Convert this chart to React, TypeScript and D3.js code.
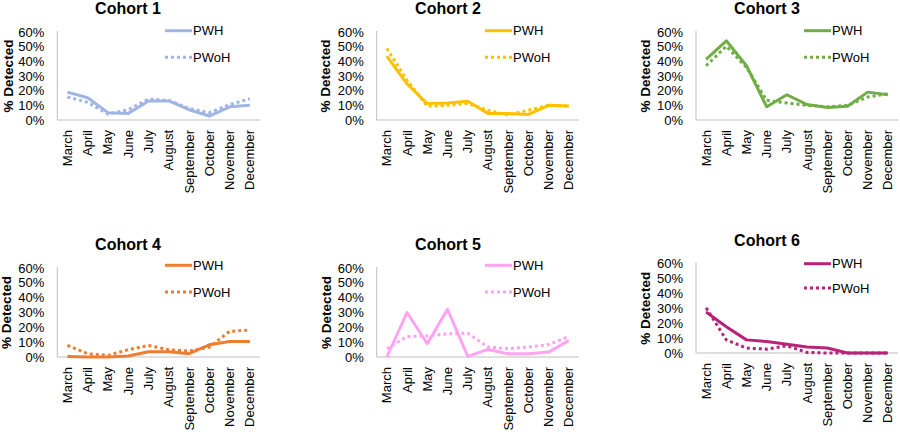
import React from "react";
import * as d3 from "d3";

const months = ["March", "April", "May", "June", "July", "August", "September", "October", "November", "December"];
const cohortNames = ["Cohort 1", "Cohort 2", "Cohort 3", "Cohort 4", "Cohort 5", "Cohort 6"];
const yTicks = [0, 10, 20, 30, 40, 50, 60];
const seriesNames = ["PWH", "PWoH"];

const pwh1 = [19, 15.2, 5, 4.5, 13, 13, 7, 2.7, 9, 10];
const pwoh1 = [15.7, 12, 4, 7, 14.3, 13.4, 7.8, 5, 10.5, 14.5];
const pwh2 = [43.6, 24.6, 11.2, 11.6, 12.8, 4.5, 4.5, 3.8, 10, 9.6];
const pwoh2 = [48.8, 27, 9.4, 10, 11.2, 6.7, 3.4, 6.7, 10, 9.4];
const pwh3 = [41.4, 54, 37, 9, 17.2, 10.5, 8.5, 9.4, 19, 17.2];
const pwoh3 = [37, 50.3, 35.8, 13.4, 11.6, 10, 9, 10, 15.7, 17.9];
const pwh4 = [0.4, 0, 0, 0.7, 3.6, 3.6, 2.2, 8.2, 10.4, 10.4];
const pwoh4 = [7.8, 2.2, 1.1, 4.9, 7.8, 4.9, 4, 6.7, 17.3, 18.2];
const pwh5 = [0, 30, 8.9, 32.2, 0.4, 5.1, 2.2, 2.2, 3.3, 11.1];
const pwoh5 = [5.6, 13.8, 14.2, 15.6, 16, 6.7, 5.6, 6.7, 8.4, 13.8];
const pwh6 = [27.5, 17.6, 8.8, 7.7, 5.9, 4, 3.3, 0, 0, 0];
const pwoh6 = [30.3, 8.8, 3.3, 2.6, 4.8, 0.4, 0, 0, 0, 0];

const pwhAll = [pwh1, pwh2, pwh3, pwh4, pwh5, pwh6];
const pwohAll = [pwoh1, pwoh2, pwoh3, pwoh4, pwoh5, pwoh6];
const colors = ["#9fb5e3", "#ffc000", "#70ad47", "#ed7d31", "#ffa3f2", "#b8237a"];

// layout (positions only)
const layouts = [
  { x0: 57.3, x1: 260, yTop: 32, yBot: 120, titleX: 128, titleY: 8, ylabX: 8.5, legX: 165, legY1: 30.7, legY2: 57.3 },
  { x0: 376.7, x1: 579, yTop: 32, yBot: 120, titleX: 448, titleY: 8, ylabX: 325.7, legX: 485, legY1: 30.7, legY2: 57.3 },
  { x0: 696, x1: 898, yTop: 32, yBot: 120, titleX: 767, titleY: 8, ylabX: 645, legX: 804, legY1: 30.7, legY2: 57.3 },
  { x0: 57.3, x1: 260, yTop: 268, yBot: 357, titleX: 128, titleY: 244, ylabX: 6.7, legX: 165, legY1: 265.3, legY2: 292 },
  { x0: 376.7, x1: 579, yTop: 268, yBot: 357, titleX: 448, titleY: 244, ylabX: 326.7, legX: 485, legY1: 265.3, legY2: 292 },
  { x0: 696, x1: 898, yTop: 263.5, yBot: 353, titleX: 767, titleY: 240, ylabX: 645, legX: 804, legY1: 263.7, legY2: 288 },
];

const FONT = "'Liberation Sans', Arial, sans-serif";
const AXIS_COLOR = "#bfbfbf";

function Panel({ idx }: { idx: number }) {
  const L = layouts[idx];
  const color = colors[idx];
  const x = d3.scaleBand<string>().domain(months).range([L.x0, L.x1]);
  const y = d3.scaleLinear().domain([0, 60]).range([L.yBot, L.yTop]);
  const cx = (m: string) => (x(m) ?? 0) + x.bandwidth() / 2;
  const line = d3
    .line<number>()
    .x((_, i) => cx(months[i]))
    .y((v) => y(v));
  const yMid = (L.yTop + L.yBot) / 2;
  return (
    <g>
      <text x={L.titleX} y={L.titleY} textAnchor="middle" dominantBaseline="central" fontFamily={FONT} fontWeight="bold" fontSize={16} fill="#000">
        {cohortNames[idx]}
      </text>
      <text
        transform={`translate(${L.ylabX},${yMid}) rotate(-90)`}
        textAnchor="middle"
        dominantBaseline="central"
        fontFamily={FONT}
        fontWeight="bold"
        fontSize={13.5}
        fill="#000"
      >
        % Detected
      </text>
      {yTicks.map((t) => (
        <text key={t} x={L.x0 - 13} y={y(t)} textAnchor="end" dominantBaseline="central" fontFamily={FONT} fontSize={13} fill="#000">
          {t}%
        </text>
      ))}
      <line x1={L.x0} x2={L.x0} y1={L.yTop - 1} y2={L.yBot} stroke={AXIS_COLOR} strokeWidth={1} />
      <line x1={L.x0} x2={L.x1} y1={L.yBot} y2={L.yBot} stroke={AXIS_COLOR} strokeWidth={1} />
      {months.map((m) => (
        <text
          key={m}
          transform={`translate(${cx(m)},${L.yBot + 10}) rotate(-90)`}
          textAnchor="end"
          dominantBaseline="central"
          fontFamily={FONT}
          fontSize={13}
          fill="#000"
        >
          {m}
        </text>
      ))}
      <path d={line(pwohAll[idx]) ?? ""} fill="none" stroke={color} strokeWidth={3} strokeDasharray="3,3" />
      <path d={line(pwhAll[idx]) ?? ""} fill="none" stroke={color} strokeWidth={3} strokeLinejoin="round" />
      <line x1={L.legX} x2={L.legX + 27} y1={L.legY1} y2={L.legY1} stroke={color} strokeWidth={3} />
      <text x={L.legX + 28} y={L.legY1} dominantBaseline="central" fontFamily={FONT} fontSize={13} fill="#000">
        {seriesNames[0]}
      </text>
      <line x1={L.legX} x2={L.legX + 27} y1={L.legY2} y2={L.legY2} stroke={color} strokeWidth={3} strokeDasharray="3,3" />
      <text x={L.legX + 28} y={L.legY2} dominantBaseline="central" fontFamily={FONT} fontSize={13} fill="#000">
        {seriesNames[1]}
      </text>
    </g>
  );
}

export default function App() {
  return (
    <svg width={900} height={434} style={{ position: "absolute", left: 0, top: 0, background: "#fff" }}>
      <rect width={900} height={434} fill="#fff" />
      {cohortNames.map((_, i) => (
        <Panel key={i} idx={i} />
      ))}
    </svg>
  );
}
